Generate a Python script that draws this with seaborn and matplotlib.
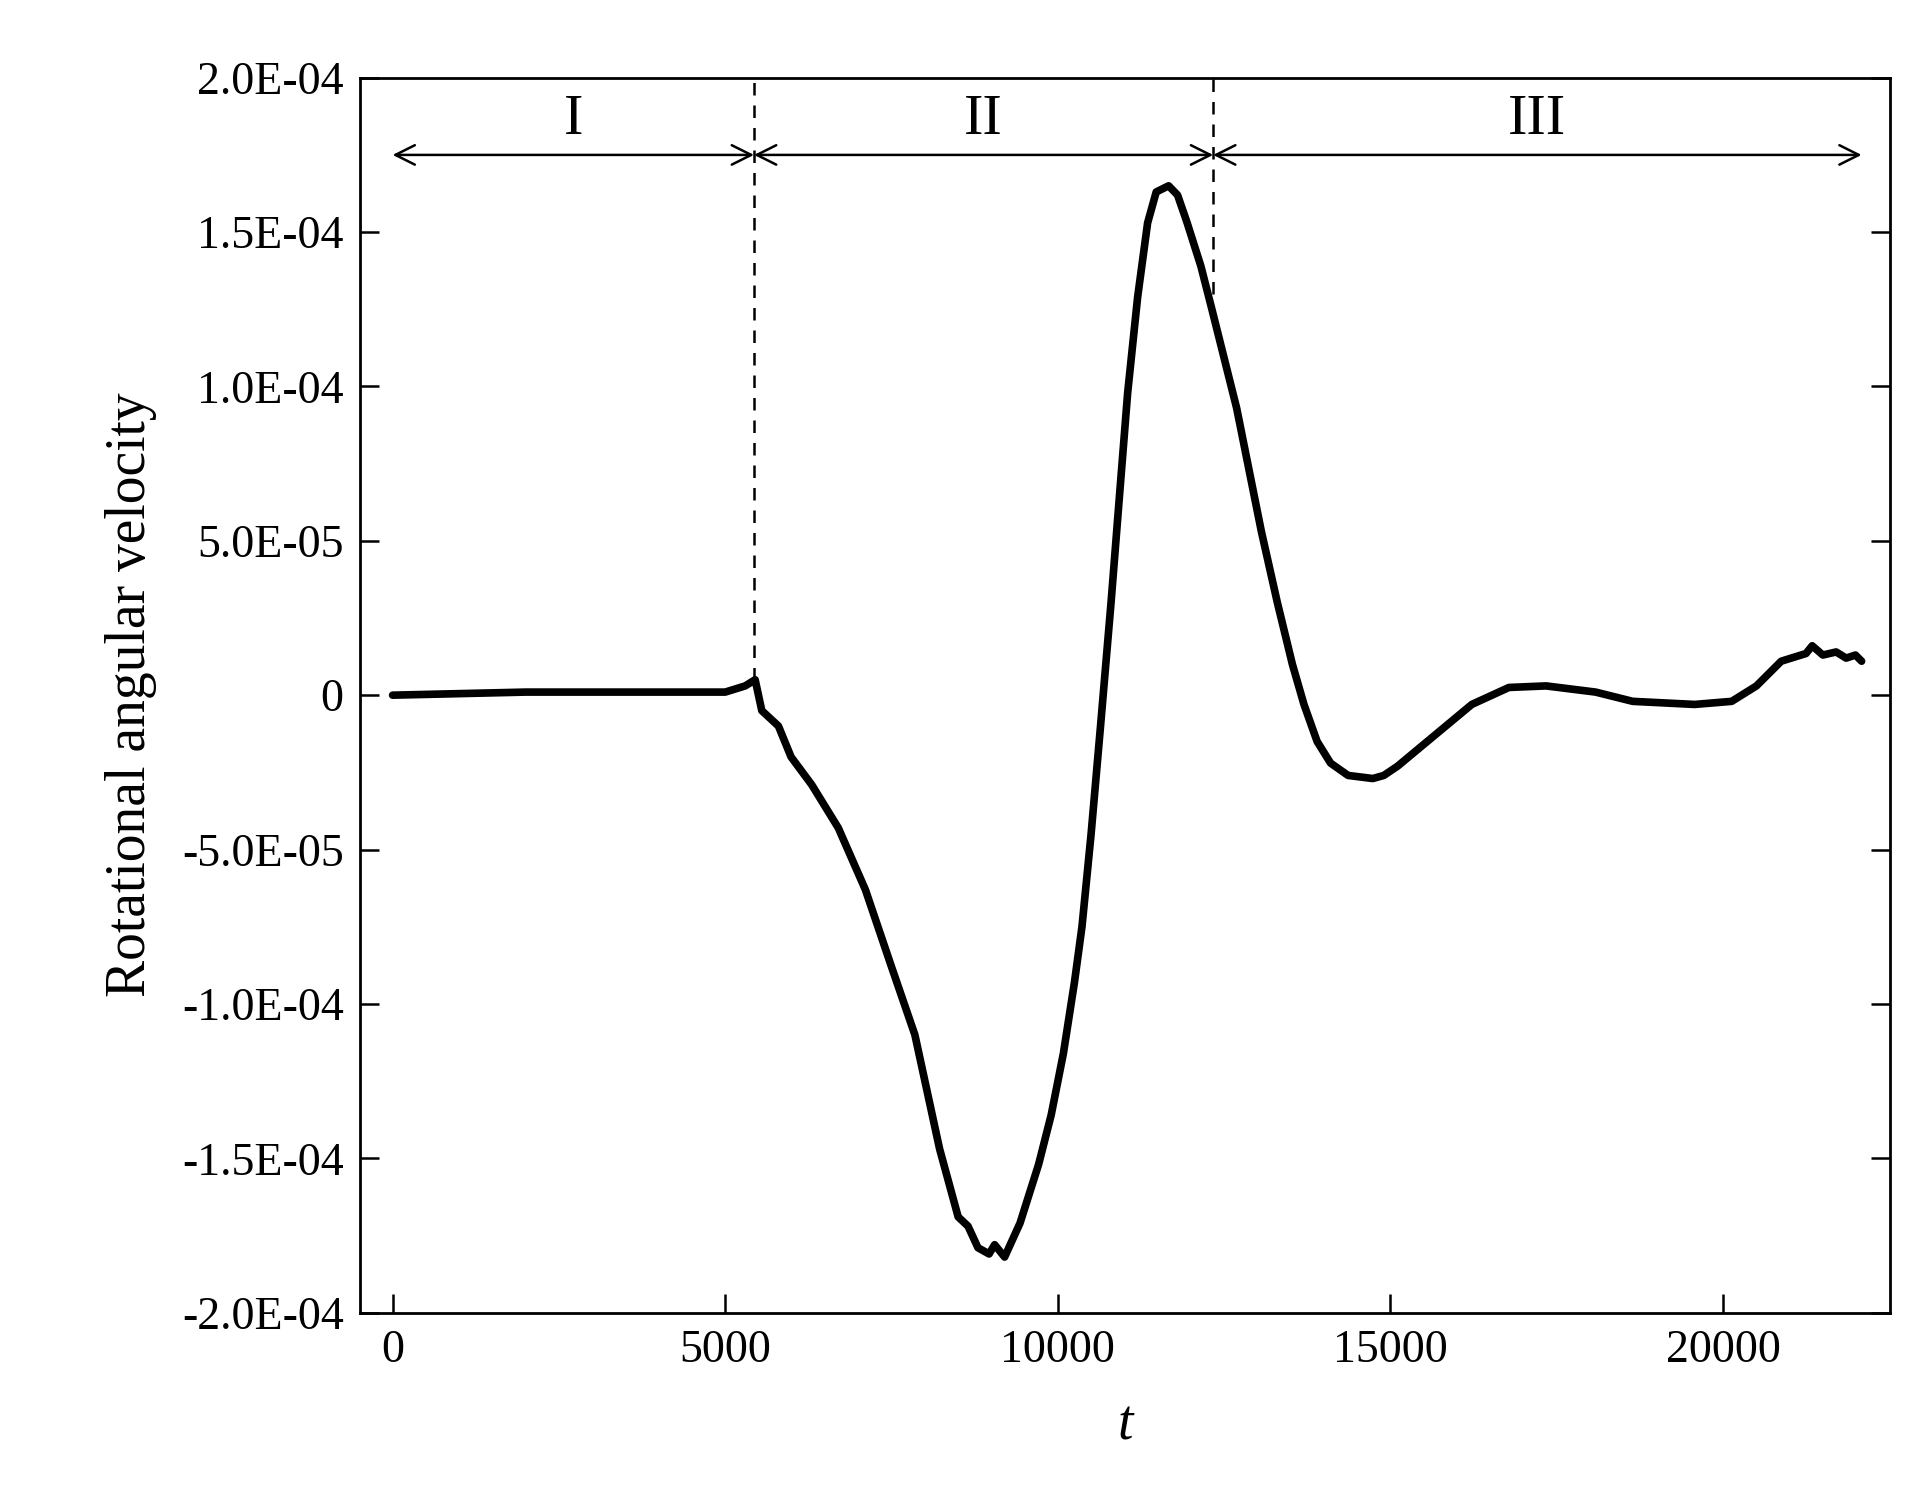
import matplotlib
matplotlib.use("Agg")
import matplotlib.pyplot as plt
import seaborn as sns
import numpy as np
import pandas as pd

t = [0, 1000, 2000, 3000, 4000, 5000, 5300, 5450, 5550, 5800, 5990, 6300, 6700, 7107, 7500, 7851, 8223,
     8502, 8650, 8800, 8967, 9050, 9200, 9432, 9711, 9900, 10084, 10250, 10363, 10500, 10642, 10800, 10921,
     11050, 11200, 11350, 11479, 11665, 11800,
     11944, 12150, 12316, 12688, 13060, 13300, 13526, 13700, 13898, 14100, 14363, 14735, 14900, 15107, 15665, 16223, 16781, 17340, 18084,
     18642, 19572, 20130, 20502, 20874, 21247, 21340, 21500, 21700, 21850, 21990, 22083]
w = [0, 0.05, 0.1, 0.1, 0.1, 0.1, 0.3, 0.5, -0.5, -1.0, -2.0, -2.9, -4.3, -6.3, -8.8, -11.0, -14.7,
     -16.9, -17.2, -17.9, -18.1, -17.8, -18.2, -17.1, -15.2, -13.6, -11.6, -9.3, -7.5, -4.5, -1.0, 3.0, 6.3,
     9.8, 12.9, 15.3, 16.3, 16.5, 16.2,
     15.3, 13.9, 12.5, 9.3, 5.3, 3.0, 1.0, -0.3, -1.5, -2.2, -2.6, -2.7, -2.6, -2.3, -1.3, -0.3, 0.25, 0.3, 0.1,
     -0.2, -0.3, -0.2, 0.3, 1.1, 1.35, 1.6, 1.3, 1.4, 1.2, 1.3, 1.1]
w = [v * 1e-5 for v in w]
boundaries = [5433, 12335]
region_labels = ["I", "II", "III"]
yticks = [-2e-4, -1.5e-4, -1e-4, -5e-5, 0, 5e-5, 1e-4, 1.5e-4, 2e-4]
ytick_labels = ["-2.0E-04", "-1.5E-04", "-1.0E-04", "-5.0E-05", "0", "5.0E-05", "1.0E-04", "1.5E-04", "2.0E-04"]

sns.set_style("ticks")
plt.rcParams['font.family'] = ['Liberation Serif', 'DejaVu Serif']
plt.rcParams['text.color'] = 'black'
plt.rcParams['axes.labelcolor'] = 'black'
plt.rcParams['xtick.color'] = 'black'
plt.rcParams['ytick.color'] = 'black'
plt.rcParams['axes.edgecolor'] = 'black'
fig = plt.figure(figsize=(19.17, 14.95), dpi=100)
ax = fig.add_axes([0.188, 0.122, 0.798, 0.826])
df = pd.DataFrame({"t": t, "w": w})
sns.lineplot(data=df, x="t", y="w", ax=ax, color="black", linewidth=5.5)
ax.set_xlim(-484, 22512)
ax.set_ylim(-2e-4, 2e-4)
ax.set_xticks([0, 5000, 10000, 15000, 20000])
ax.set_yticks(yticks)
ax.set_yticklabels(ytick_labels)
ax.tick_params(direction="in", length=14, width=1.8, labelsize=33, right=True, pad=12)
for s in ax.spines.values():
    s.set_linewidth(2)
ax.set_xlabel("t", fontsize=40, style="italic", labelpad=20)
ax.set_ylabel("Rotational angular velocity", fontsize=40, labelpad=18)

ax.vlines(boundaries[0], 0.05e-4, 2e-4, colors="black", linestyles=(0, (5, 4)), linewidth=1.8)
ax.vlines(boundaries[1], 1.3e-4, 2e-4, colors="black", linestyles=(0, (5, 4)), linewidth=1.8)
edges = [0, boundaries[0], boundaries[1], 22083]
for i, lab in enumerate(region_labels):
    a, b = edges[i], edges[i + 1]
    ax.annotate("", xy=(a, 1.75e-4), xytext=(b, 1.75e-4),
                arrowprops=dict(arrowstyle="<->", color="black", lw=1.8, mutation_scale=35,
                                shrinkA=0, shrinkB=0))
    ax.text((a + b) / 2, 1.78e-4, lab, ha="center", va="bottom", fontsize=42)
fig.savefig("out.png", dpi=100)
